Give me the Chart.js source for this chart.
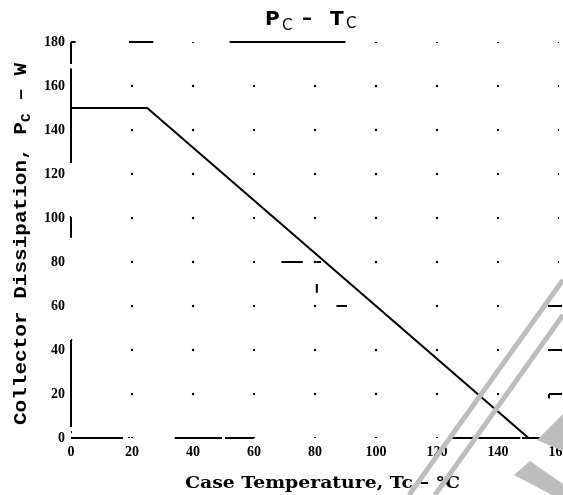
<!DOCTYPE html>
<html lang="en">
<head>
<meta charset="UTF-8">
<title>PC - TC</title>
<script src="https://cdn.jsdelivr.net/npm/chart.js"></script>
<style>
  html, body { margin: 0; padding: 0; background: #fff; }
</style>
</head>
<body>
<canvas id="grafico" width="563" height="495"></canvas>

<script>
// data
const caseTemp = [0, 25, 150];          // Tc, °C
const dissipation = [150, 150, 0];      // Pc, W

// axis ticks
const xTicks = [0, 20, 40, 60, 80, 100, 120, 140, 160];
const yTicks = [0, 20, 40, 60, 80, 100, 120, 140, 160, 180];

// broken axis / stray marks of the scanned sheet, in data units [x1, y1, x2, y2]
const scanMarks = [
    [0, 180, 1.5, 180], [0, 180, 0, 170], [0, 168, 0, 125],
    [-0.4, 100.5, 0, 100.5], [0, 100.5, 0, 91],
    [0, 44.5, 0.4, 44.5], [0, 44.5, 0, 5],
    [0, 0, 17, 0], [34, 0, 49.5, 0], [50.5, 0, 60, 0], [124, 0, 147.3, 0], [147.9, 0, 154, 0],
    [19, 180, 27, 180], [52, 180, 90, 180],
    [69, 80, 76, 80], [80.4, 80, 82, 80], [80.6, 70, 80.6, 66], [87, 60, 90.5, 60],
    [156.4, 60, 161, 60], [156.4, 40, 161, 40], [156.7, 20, 161, 20], [156.7, 20, 156.7, 18]
];

// dotted grid at every tick crossing
const gridDots = [];
xTicks.slice(1).forEach(x => yTicks.forEach(y => gridDots.push({ x: x, y: y })));
const stray = [{ x: 0, y: 2.7 }, { x: 19, y: 0 }];

const marcas = {
    id: 'marcas',
    beforeDatasetsDraw(chart) {
        const ctx = chart.ctx;
        const sx = chart.scales.x, sy = chart.scales.y;
        ctx.save();
        ctx.strokeStyle = '#000';
        ctx.lineWidth = 2;
        ctx.lineCap = 'butt';
        scanMarks.forEach(m => {
            ctx.beginPath();
            ctx.moveTo(sx.getPixelForValue(m[0]), sy.getPixelForValue(m[1]));
            ctx.lineTo(sx.getPixelForValue(m[2]), sy.getPixelForValue(m[3]));
            ctx.stroke();
        });
        ctx.restore();
    },
    afterDraw(chart) {
        const ctx = chart.ctx;
        const a = chart.chartArea;
        ctx.save();
        ctx.fillStyle = '#000';
        ctx.textBaseline = 'alphabetic';

        // title  P_C - T_C
        ctx.font = 'bold 20px "DejaVu Sans"';
        ctx.fillText('P', 265, 25);
        ctx.font = '15px "DejaVu Sans"';
        ctx.fillText('C', 282, 30);
        ctx.font = 'bold 20px "DejaVu Sans"';
        ctx.fillText('\u2013', 302, 24);
        ctx.fillText('T', 330, 25);
        ctx.font = '15px "DejaVu Sans"';
        ctx.fillText('C', 346, 28);

        // x title
        ctx.font = 'bold 17px "DejaVu Serif"';
        const xt = 'Case Temperature, Tc \u2013 \u00B0C';
        let w = ctx.measureText(xt).width;
        ctx.save();
        ctx.translate(185, 488);
        ctx.scale(275 / w, 1);
        ctx.fillText(xt, 0, 0);
        ctx.restore();

        // y title
        ctx.save();
        ctx.translate(26, 425);
        ctx.rotate(-Math.PI / 2);
        ctx.font = 'bold 19px "Liberation Mono"';
        const p1 = 'Collector Dissipation, P';
        const p2 = ' \u2013 W';
        ctx.font = 'bold 19px "Liberation Mono"';
        const w1 = ctx.measureText(p1).width;
        ctx.font = 'bold 13px "Liberation Mono"';
        const ws = ctx.measureText('C').width;
        ctx.font = 'bold 19px "Liberation Mono"';
        const w2 = ctx.measureText(p2).width;
        ctx.scale(362 / (w1 + ws + w2), 1);
        ctx.fillText(p1, 0, 0);
        ctx.font = 'bold 13px "Liberation Mono"';
        ctx.fillText('C', w1, 4);
        ctx.font = 'bold 19px "Liberation Mono"';
        ctx.fillText(p2, w1 + ws, 0);
        ctx.restore();

        // grey streaks across the scan
        ctx.strokeStyle = '#bdbdbd';
        ctx.lineWidth = 5;
        ctx.beginPath();
        ctx.moveTo(409, 495); ctx.lineTo(563, 280);
        ctx.moveTo(435, 495); ctx.lineTo(563, 315);
        ctx.stroke();
        ctx.fillStyle = '#bdbdbd';
        ctx.beginPath();
        ctx.moveTo(563, 414); ctx.lineTo(537, 440); ctx.lineTo(563, 451);
        ctx.closePath(); ctx.fill();
        ctx.beginPath();
        ctx.moveTo(514, 475); ctx.lineTo(530, 461); ctx.lineTo(563, 484);
        ctx.lineTo(563, 495); ctx.lineTo(552, 495);
        ctx.closePath(); ctx.fill();
        ctx.restore();
    }
};

const ctx = document.getElementById('grafico').getContext('2d');

new Chart(ctx, {
    type: 'scatter',
    data: {
        datasets: [
            {
                label: 'Pc',
                data: caseTemp.map((t, i) => ({ x: t, y: dissipation[i] })),
                showLine: true,
                borderColor: '#000',
                borderWidth: 2,
                pointRadius: 0,
                tension: 0
            },
            {
                label: 'grid',
                data: gridDots.concat(stray),
                pointStyle: 'rect',
                pointRadius: 1.5,
                backgroundColor: '#000',
                borderWidth: 0
            }
        ]
    },
    options: {
        responsive: false,
        animation: false,
        events: [],
        layout: { padding: { left: 0, right: 4, top: 42, bottom: 0 } },
        plugins: {
            legend: { display: false },
            title: { display: false },
            tooltip: { enabled: false }
        },
        scales: {
            x: {
                type: 'linear',
                min: 0,
                max: 160,
                afterBuildTicks: s => { s.ticks = xTicks.map(v => ({ value: v })); },
                afterFit: s => { s.height = 57; s.paddingLeft = 0; s.paddingRight = 0; },
                grid: { display: false, drawTicks: false },
                border: { display: false },
                ticks: {
                    padding: 6,
                    color: '#000',
                    maxRotation: 0,
                    font: { family: 'Liberation Serif', size: 14, weight: 'bold' }
                }
            },
            y: {
                type: 'linear',
                min: 0,
                max: 180,
                afterBuildTicks: s => { s.ticks = yTicks.map(v => ({ value: v })); },
                afterFit: s => { s.width = 71; s.paddingTop = 0; s.paddingBottom = 0; },
                grid: { display: false, drawTicks: false },
                border: { display: false },
                ticks: {
                    padding: 6,
                    color: '#000',
                    font: { family: 'Liberation Serif', size: 14, weight: 'bold' }
                }
            }
        }
    },
    plugins: [marcas]
});
</script>
</body>
</html>
